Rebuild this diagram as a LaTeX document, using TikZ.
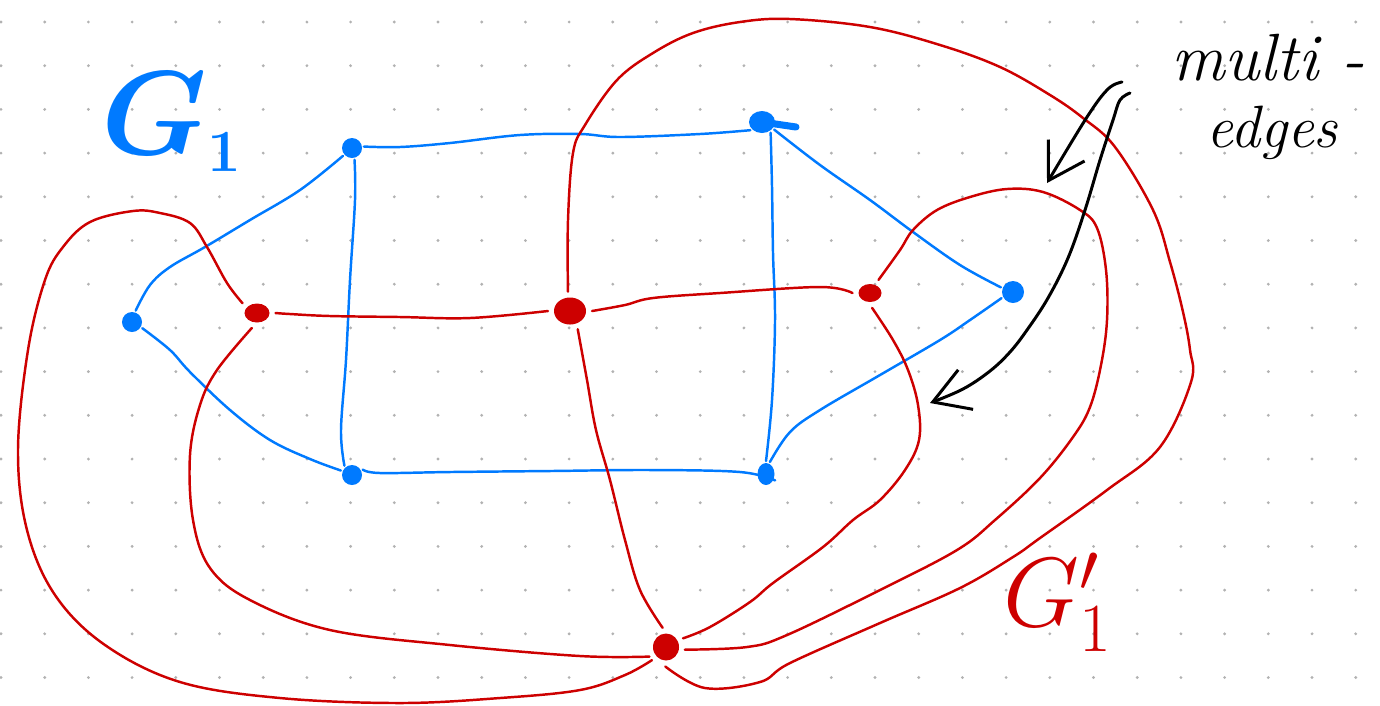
\RequirePackage{fix-cm}
\documentclass[tikz,border=0pt]{standalone}
\usepackage{amsmath,amssymb}
\usepackage{tikz}
\usetikzlibrary{arrows.meta,shapes.geometric}
\definecolor{gblue}{RGB}{0,122,255}
\definecolor{gred}{RGB}{205,0,0}
\definecolor{dotgray}{RGB}{178,178,178}
\newcommand{\dotgrid}{%
  \foreach \col in {0,...,31}{\foreach \row in {0,...,15}{
    \fill[dotgray] ({1+43.7*\col},{22+43.7*\row}) circle (.45pt);}}
}

\begin{document}
\begin{tikzpicture}[x=.01cm,y=-.01cm,
    bnode/.style={circle,fill=gblue,inner sep=0pt,minimum size=.2cm,outer sep=.02cm},
    rnode/.style={ellipse,fill=gred,inner sep=0pt,outer sep=.06cm},
    bedge/.style={gblue,line width=.7pt,line cap=round},
    redge/.style={gred,line width=.7pt,line cap=round},
    curvy/.style={smooth,tension=.6},
    note/.style={-{Straight Barb[length=10pt,width=12pt]},line width=.85pt,line cap=round,line join=round}]
    \useasboundingbox (0,0) rectangle (1380,705);
    \dotgrid
    \node[bnode] (b1) at (132,322) {};
    \node[bnode] (b2) at (352,148) {};
    \node[bnode,ellipse,minimum width=.26cm,minimum height=.22cm] (b3) at (762,122) {};
    \node[bnode,minimum size=.22cm] (b4) at (1013,292) {};
    \node[bnode,ellipse,minimum width=.17cm,minimum height=.22cm] (b5) at (766,474) {};
    \node[bnode] (b6) at (352,475) {};
    \draw[gblue,line width=2pt,line cap=round] (b3.center) -- +(34,5);
    \node[rnode,minimum width=.25cm,minimum height=.19cm] (r1) at (257,313) {};
    \node[rnode,minimum width=.32cm,minimum height=.27cm] (r2) at (570,311) {};
    \node[rnode,minimum width=.23cm,minimum height=.18cm] (r3) at (870,293) {};
    \node[rnode,minimum width=.26cm,minimum height=.27cm] (r4) at (666,647) {};
    \node[gblue,font=\fontsize{34}{40}\selectfont\boldmath] (g1) at (172,122) {$G_{\scriptscriptstyle 1}$};
    \node[gred,font=\fontsize{28}{32}\selectfont] (g1d) at (1058,602) {$G_1'$};
    \node[inner sep=0pt,font=\fontsize{19}{22}\selectfont\itshape] (multi) at (1268,58) {multi -};
    \node[inner sep=0pt,font=\fontsize{17}{20}\selectfont\itshape] (edges) at (1272,133) {edges};
    \coordinate (froma) at (1122,82);
    \coordinate (tipa) at (1047,183);
    \coordinate (fromb) at (1130,93);
    \coordinate (tipb) at (930,403);
    \draw[bedge] plot[curvy] coordinates {(b1.72) (150,285) (170,267) (205,247) (250,220) (300,190) (b2.221)};
    \draw[bedge] plot[curvy] coordinates {(b1.-31) (170,350) (190,372) (230,410) (270,440) (310,459) (b6.158)};
    \draw[bedge] plot[curvy] coordinates {(b2.7) (400,147) (450,143) (520,135) (580,134) (620,137) (700,134) (b3.215)};
    \draw[bedge] plot[curvy] coordinates {(b2.-78) (355,200) (350,280) (346,360) (341,430) (b6.129)};
    \draw[bedge] plot[curvy] coordinates {(b3.-51) (772,187) (773,253) (775,320) (772,400) (b5.90)};
    \draw[bedge] plot[curvy] coordinates {(b3.-32) (820,165) (870,200) (913,232) (960,265) (b4.159)};
    \draw[bedge] plot[curvy] coordinates {(b4.208) (970,320) (940,340) (880,375) (820,410) (790,432) (b5.72)};
    \draw[bedge] plot[curvy] coordinates {(b6.27) (380,473) (450,472) (550,471) (650,470) (740,472) (b5.-35)};
    \draw[redge] plot[curvy] coordinates {(r1.0) (290,314) (330,316) (400,317) (470,318) (r2.180)};
    \draw[redge] plot[curvy] coordinates {(r2.0) (625,305) (653,298) (720,293) (820,287) (r3.180)};
    \draw[redge] plot[curvy] coordinates {(r1.146) (227,283) (207,247) (190,223) (160,213) (133,211) (90,222) (63,247) (45,280) (28,350) (18,450) (27,530) (55,595) (105,645) (180,682) (280,698) (400,703) (500,698) (580,690) (625,675) (r4.223)};
    \draw[redge] plot[curvy] coordinates {(r1.251) (217,370) (200,405) (190,455) (193,520) (210,568) (250,600) (330,630) (450,645) (580,656) (r4.210)};
    \draw[redge] plot[curvy] coordinates {(r2.-67) (587,380) (596,430) (610,480) (625,540) (640,590) (r4.100)};
    \draw[redge] plot[curvy] coordinates {(r2.96) (568,220) (573,153) (585,125) (617,80) (653,53) (693,33) (740,22) (790,19) (870,27) (940,45) (1000,67) (1050,95) (1083,118) (1115,147) (1153,210) (1170,262) (1183,312) (1190,350) (1191,382) (1160,447) (1107,490) (1040,538) (1013,557) (960,588) (880,623) (790,663) (760,682) (705,688) (r4.268)};
    \draw[redge] plot[curvy] coordinates {(r3.57) (900,250) (913,230) (937,210) (970,197) (1007,189) (1043,192) (1080,210) (1097,228) (1106,270) (1107,320) (1101,365) (1090,407) (1073,437) (1040,478) (995,520) (957,550) (880,590) (787,635) (747,647) (r4.-8)};
    \draw[redge] plot[curvy] coordinates {(r3.-82) (893,340) (908,370) (918,405) (919,440) (905,470) (880,500) (853,520) (823,547) (773,583) (750,602) (710,627) (r4.27)};
    \draw[note] plot[curvy] coordinates {(froma) (1108,89) (1087,117) (tipa)};
    \draw[note] plot[curvy] coordinates {(fromb) (1120,100) (1113,120) (1100,160) (1085,210) (1068,258) (1048,298) (1027,330) (1010,352) (990,371) (963,389) (tipb)};
\end{tikzpicture}
\end{document}
